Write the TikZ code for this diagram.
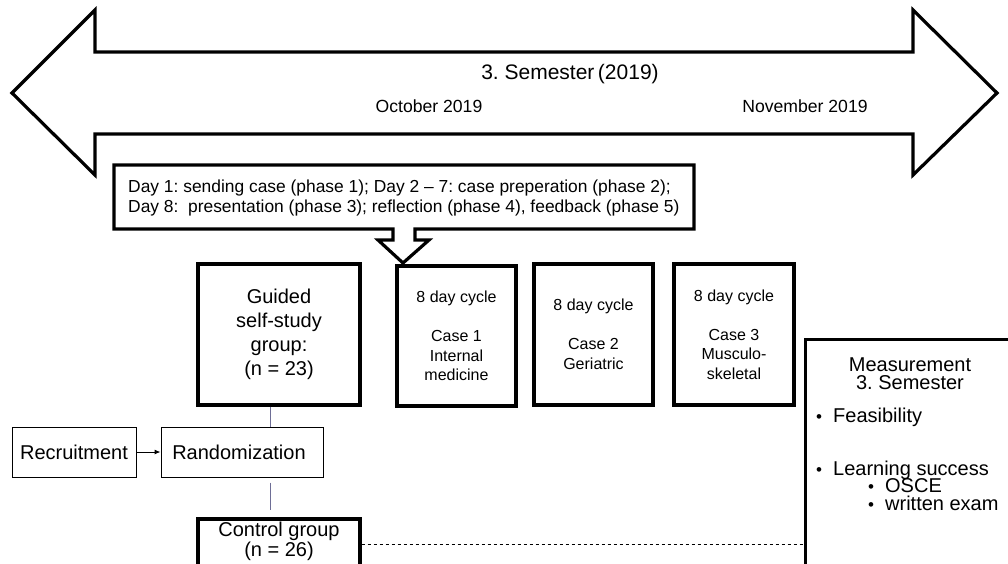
\documentclass[tikz,border=0pt]{standalone}
\usepackage{fontspec}
\setmainfont{Liberation Sans}
\usetikzlibrary{arrows.meta}
\frenchspacing
\begin{document}
\begin{tikzpicture}[x=1pt,y=-1pt,
  thickbox/.style={draw=black,line width=3.2pt,inner sep=0pt},
  thinbox/.style={draw=black,line width=1pt,inner sep=0pt},
  link/.style={draw={rgb,255:red,110;green,110;blue,150},line width=0.8pt},
  txt/.style={inner sep=0pt,font=\fontsize{20}{24}\selectfont},
  small/.style={inner sep=0pt,font=\fontsize{16}{19.5}\selectfont}]
\useasboundingbox (0,0) rectangle (1008,563);
\clip (0,0) rectangle (1008,563);
\fill[white] (0,0) rectangle (1008,563);
% double arrow
\draw[line width=3.2pt,line join=miter] (12,93) -- (95,10) -- (95,52) -- (913,52) -- (913,10) -- (997,93) -- (913,175) -- (913,134) -- (95,134) -- (95,175) -- cycle;
\node[inner sep=0pt,font=\fontsize{21}{24}\selectfont] (title) at (570,74) {3. Semester\,(2019)};
\node[inner sep=0pt,font=\fontsize{17.6}{20}\selectfont] (oct) at (429,106) {October 2019};
\node[inner sep=0pt,font=\fontsize{17.6}{20}\selectfont] (nov) at (805,106) {November 2019};
% callout box
\draw[line width=3.2pt,line join=miter] (114,165) -- (694,165) -- (694,229) -- (415,229) -- (415,240) -- (429,240) -- (403,263) -- (378,240) -- (393,240) -- (393,229) -- (114,229) -- cycle;
\node[inner sep=0pt,font=\fontsize{17.4}{20}\selectfont,anchor=west] (day1) at (128,188) {Day 1: sending case (phase 1); Day 2 -- 7: case preperation (phase 2);};
\node[inner sep=0pt,font=\fontsize{17.4}{20}\selectfont,anchor=west] (day8) at (128,208) {Day 8:~ presentation (phase 3); reflection (phase 4), feedback (phase 5)};
% boxes
\node[thickbox,minimum width=162pt,minimum height=141pt,txt,align=center] (guided) at (279,334.5) {Guided\\self-study\\group:\\(n = 23)};
\node[thickbox,minimum width=119pt,minimum height=140pt,small,align=center] (case1) at (456.5,336) {8 day cycle\\[19.5pt]Case 1\\Internal\\medicine};
\node[thickbox,minimum width=119pt,minimum height=141pt,small,align=center] (case2) at (593.5,334.5) {8 day cycle\\[19.5pt]Case 2\\Geriatric};
\node[thickbox,minimum width=120pt,minimum height=141pt,small,align=center] (case3) at (734,334.5) {8 day cycle\\[19.5pt]Case 3\\Musculo-\\skeletal};
\node[thinbox,minimum width=124pt,minimum height=50pt,txt] (recr) at (74,452) {Recruitment};
\node[thinbox,minimum width=162pt,minimum height=50pt,txt] (rand) at (242,452) {\hspace*{-6pt}Randomization};
\node[thickbox,minimum width=162pt,minimum height=48pt] (control) at (279,543) {};
\node[txt,align=center,font=\fontsize{20}{17}\selectfont] (controlt) at (279,541) {Control group\\(n = 26)};
\node[thickbox,minimum width=214pt,minimum height=240pt,anchor=north west] (meas) at (804,338) {};
\node[txt,align=center,font=\fontsize{20}{18}\selectfont] (meast) at (910,374) {Measurement\\3. Semester};
\node[txt,anchor=west] (b1) at (816,417) {{\fontsize{17}{17}\selectfont\textbullet}\hspace{11pt}Feasibility};
\node[txt,anchor=west] (b2) at (816,470) {{\fontsize{17}{17}\selectfont\textbullet}\hspace{11pt}Learning success};
\node[txt,anchor=west] (b3) at (868,486) {{\fontsize{17}{17}\selectfont\textbullet}\hspace{11pt}OSCE};
\node[txt,anchor=west] (b4) at (868,503) {{\fontsize{17}{17}\selectfont\textbullet}\hspace{11pt}written exam};
% connectors
\coordinate (lx) at (270,0);
\draw[link] (guided.south -| lx) -- (rand.north -| lx);
\draw[link,shorten <=5pt,shorten >=7pt] (rand.south -| lx) -- (control.north -| lx);
\draw[line width=1pt,-{Latex[length=6pt,width=5pt]}] (recr.east) -- (rand.west);
\draw[dashed,line width=0.8pt] ([yshift=-1pt]control.east) -- ([yshift=-1pt]control.east -| meas.west);
\end{tikzpicture}
\end{document}
